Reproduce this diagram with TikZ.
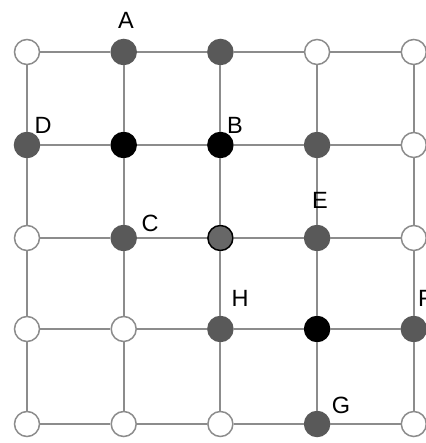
\documentclass[tikz,border=0pt]{standalone}
\usepackage{fontspec}
\setmainfont{Liberation Sans}
\usepackage{tikz}
\definecolor{edgegray}{HTML}{8C8C8C}
\definecolor{dotgray}{HTML}{595959}
\definecolor{midgray}{HTML}{676767}
\tikzset{
	site/.style={circle, minimum size=25pt, inner sep=0pt, line width=1.5pt},
	free/.style={site, draw=edgegray, fill=white},
	taken/.style={site, draw=dotgray, fill=dotgray},
	hit/.style={site, draw=black, fill=black},
	probe/.style={site, draw=black, fill=midgray},
	bond/.style={draw=edgegray, line width=2pt},
	lbl/.style={font=\fontsize{23.5}{28}\selectfont}
}

\begin{document}
\begin{tikzpicture}[x=1pt,y=1pt]
		\useasboundingbox (0,0) rectangle (425,443);
		% grid sites, row by row from the top
		\foreach \kind [count=\col from 0] in {free,taken,taken,free,free}
			\node[\kind] (s\col0) at (27+96.7*\col,391) {};
		\foreach \kind [count=\col from 0] in {taken,hit,hit,taken,free}
			\node[\kind] (s\col1) at (27+96.7*\col,298) {};
		\foreach \kind [count=\col from 0] in {free,taken,probe,taken,free}
			\node[\kind] (s\col2) at (27+96.7*\col,205) {};
		\foreach \kind [count=\col from 0] in {free,free,taken,hit,taken}
			\node[\kind] (s\col3) at (27+96.7*\col,114) {};
		\foreach \kind [count=\col from 0] in {free,free,free,taken,free}
			\node[\kind] (s\col4) at (27+96.7*\col,19) {};
		% grid lines
		\foreach \row in {0,1,2,3,4}
			\foreach \a/\b in {0/1,1/2,2/3,3/4}{
				\path[bond] (s\a\row) -- (s\b\row);
				\path[bond] (s\row\a) -- (s\row\b);
			}
		% letters
		\draw (126,423) node[lbl]{A};
		\draw (43,318) node[lbl]{D};
		\draw (235,318) node[lbl]{B};
		\draw (150,220) node[lbl]{C};
		\draw (320,243) node[lbl]{E};
		\draw (240,145) node[lbl]{H};
		\draw (418,145) node[lbl, anchor=west, inner sep=0pt]{F};
		\draw (341,38) node[lbl]{G};
\end{tikzpicture}
\end{document}
